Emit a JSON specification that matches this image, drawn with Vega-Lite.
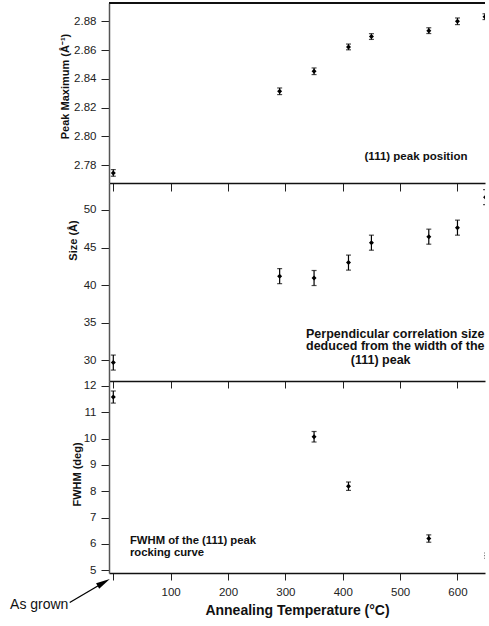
{
  "$schema": "https://vega.github.io/schema/vega-lite/v6.json",
  "autosize": {"type": "pad"},
  "padding": {"left": 10, "top": 2, "right": 0, "bottom": 0},
  "spacing": 0,
  "bounds": "flush",
  "config": {
    "view": {"stroke": null},
    "font": "Liberation Sans",
    "axis": {
      "labelFont": "Liberation Sans",
      "titleFont": "Liberation Sans",
      "labelFontSize": 11.5,
      "labelColor": "#222",
      "tickColor": "#222",
      "domainColor": "#111",
      "titleColor": "#111",
      "labelOverlap": false,
      "grid": false
    }
  },
  "datasets": {
    "peak": [
      {"t": 0, "v": 2.7747, "lo": 2.7724, "hi": 2.777},
      {"t": 290, "v": 2.8314, "lo": 2.8291, "hi": 2.8337},
      {"t": 350, "v": 2.8453, "lo": 2.843, "hi": 2.8476},
      {"t": 410, "v": 2.8622, "lo": 2.8602, "hi": 2.8642},
      {"t": 450, "v": 2.8694, "lo": 2.8674, "hi": 2.8714},
      {"t": 550, "v": 2.8735, "lo": 2.8715, "hi": 2.8755},
      {"t": 600, "v": 2.88, "lo": 2.8777, "hi": 2.8823},
      {"t": 648, "v": 2.8832, "lo": 2.8812, "hi": 2.8852}
    ],
    "size": [
      {"t": 0, "v": 29.7, "lo": 28.7, "hi": 30.7},
      {"t": 290, "v": 41.2, "lo": 40.2, "hi": 42.2},
      {"t": 350, "v": 40.95, "lo": 39.95, "hi": 41.95},
      {"t": 410, "v": 43.0, "lo": 42.0, "hi": 44.0},
      {"t": 450, "v": 45.65, "lo": 44.65, "hi": 46.65},
      {"t": 550, "v": 46.45, "lo": 45.45, "hi": 47.45},
      {"t": 600, "v": 47.65, "lo": 46.65, "hi": 48.65},
      {"t": 649, "v": 51.7, "lo": 50.7, "hi": 52.7}
    ],
    "fwhm": [
      {"t": 0, "v": 11.58, "lo": 11.35, "hi": 11.81},
      {"t": 350, "v": 10.07, "lo": 9.87, "hi": 10.27},
      {"t": 410, "v": 8.19, "lo": 8.03, "hi": 8.35},
      {"t": 550, "v": 6.2, "lo": 6.06, "hi": 6.34},
      {"t": 651, "v": 5.55, "lo": 5.45, "hi": 5.65}
    ],
    "noteTop": [
      {"t": 438, "v": 2.7835, "label": "(111) peak position"}
    ],
    "noteMid": [
      {"t": 336, "v": 33.0, "label": "Perpendicular correlation size"},
      {"t": 336, "v": 31.33, "label": "deduced from the width of the"},
      {"t": 414, "v": 29.47, "label": "(111) peak"}
    ],
    "noteBot": [
      {"t": 29, "v": 6.0, "label": "FWHM of the (111) peak"},
      {"t": 29, "v": 5.525, "label": "rocking curve"}
    ],
    "asGrown": [
      {"t": -180, "v": 3.54, "label": "As grown"}
    ],
    "arrow": [
      {"t": -76, "v": 3.77, "t2": -16.7, "v2": 4.53}
    ]
  },
  "vconcat": [
    {
      "width": 376,
      "height": 180,
      "layer": [
        {
          "data": {"name": "peak"},
          "mark": {"type": "rule", "color": "#000", "strokeWidth": 1.2, "clip": true},
          "encoding": {
            "x": {"field": "t", "type": "quantitative",
              "scale": {"domain": [-7.5, 648], "nice": false, "zero": false},
              "axis": {"orient": "bottom", "values": [0, 100, 200, 300, 400, 500, 600], "tickCount": 20, "labels": false, "tickSize": 8, "title": null, "domainWidth": 1.5}},
            "y": {"field": "lo", "type": "quantitative",
              "scale": {"domain": [2.7677, 2.8927], "nice": false, "zero": false},
              "axis": {"values": [2.78, 2.8, 2.82, 2.84, 2.86, 2.88], "tickCount": 20, "format": ".2f", "tickSize": 8, "labelPadding": 5, "labelOverlap": false,
                "domainColor": "#555", "domainWidth": 1.5,
                "title": "Peak Maximum (Å⁻¹)", "titleFontSize": 11, "titleFontWeight": "bold", "titleX": -39, "titleY": 83}},
            "y2": {"field": "hi"}
          }
        },
        {
          "data": {"name": "peak"},
          "mark": {"type": "tick", "orient": "horizontal", "size": 5, "thickness": 1.2, "color": "#000", "clip": true},
          "encoding": {"x": {"field": "t", "type": "quantitative"}, "y": {"field": "lo", "type": "quantitative"}}
        },
        {
          "data": {"name": "peak"},
          "mark": {"type": "tick", "orient": "horizontal", "size": 5, "thickness": 1.2, "color": "#000", "clip": true},
          "encoding": {"x": {"field": "t", "type": "quantitative"}, "y": {"field": "hi", "type": "quantitative"}}
        },
        {
          "data": {"name": "peak"},
          "mark": {"type": "point", "shape": "diamond", "filled": true, "size": 25, "color": "#000", "opacity": 1, "clip": true},
          "encoding": {"x": {"field": "t", "type": "quantitative"}, "y": {"field": "v", "type": "quantitative"}}
        },
        {
          "data": {"name": "peak"},
          "mark": {"type": "rule", "color": "#111", "strokeWidth": 1.2},
          "encoding": {"y": {"datum": 2.8927, "type": "quantitative"}}
        },
        {
          "data": {"name": "noteTop"},
          "mark": {"type": "text", "align": "left", "baseline": "alphabetic", "fontSize": 11.5, "fontWeight": "bold", "font": "Liberation Sans", "color": "#111"},
          "encoding": {"x": {"field": "t", "type": "quantitative"}, "y": {"field": "v", "type": "quantitative"}, "text": {"field": "label"}}
        }
      ]
    },
    {
      "width": 376,
      "height": 198,
      "layer": [
        {
          "data": {"name": "size"},
          "mark": {"type": "rule", "color": "#000", "strokeWidth": 1.2, "clip": true},
          "encoding": {
            "x": {"field": "t", "type": "quantitative",
              "scale": {"domain": [-7.5, 648], "nice": false, "zero": false},
              "axis": {"orient": "bottom", "values": [0, 100, 200, 300, 400, 500, 600], "tickCount": 20, "labels": false, "tickSize": 7, "title": null, "domainWidth": 1.5}},
            "y": {"field": "lo", "type": "quantitative",
              "scale": {"domain": [27.25, 53.59], "nice": false, "zero": false},
              "axis": {"values": [30, 35, 40, 45, 50], "tickCount": 20, "format": "d", "tickSize": 8, "labelPadding": 5, "labelOverlap": false,
                "domainColor": "#555", "domainWidth": 1.5,
                "title": "Size (Å)", "titleFontSize": 11, "titleFontWeight": "bold", "titleX": -31, "titleY": 57}},
            "y2": {"field": "hi"}
          }
        },
        {
          "data": {"name": "size"},
          "mark": {"type": "tick", "orient": "horizontal", "size": 5, "thickness": 1.2, "color": "#000", "clip": true},
          "encoding": {"x": {"field": "t", "type": "quantitative"}, "y": {"field": "lo", "type": "quantitative"}}
        },
        {
          "data": {"name": "size"},
          "mark": {"type": "tick", "orient": "horizontal", "size": 5, "thickness": 1.2, "color": "#000", "clip": true},
          "encoding": {"x": {"field": "t", "type": "quantitative"}, "y": {"field": "hi", "type": "quantitative"}}
        },
        {
          "data": {"name": "size"},
          "mark": {"type": "point", "shape": "diamond", "filled": true, "size": 25, "color": "#000", "opacity": 1, "clip": true},
          "encoding": {"x": {"field": "t", "type": "quantitative"}, "y": {"field": "v", "type": "quantitative"}}
        },
        {
          "data": {"name": "noteMid"},
          "mark": {"type": "text", "align": "left", "baseline": "alphabetic", "fontSize": 12.5, "fontWeight": "bold", "font": "Liberation Sans", "color": "#111", "clip": true},
          "encoding": {"x": {"field": "t", "type": "quantitative"}, "y": {"field": "v", "type": "quantitative"}, "text": {"field": "label"}}
        }
      ]
    },
    {
      "width": 376,
      "height": 192,
      "layer": [
        {
          "data": {"name": "fwhm"},
          "mark": {"type": "rule", "color": "#000", "strokeWidth": 1.2, "clip": true},
          "encoding": {
            "x": {"field": "t", "type": "quantitative",
              "scale": {"domain": [-7.5, 648], "nice": false, "zero": false},
              "axis": {"orient": "bottom", "values": [0, 100, 200, 300, 400, 500, 600], "tickCount": 20, "format": "d", "tickSize": 7, "labelPadding": 6, "domainWidth": 1.5, "labelOverlap": false,
                "labelExpr": "datum.value == 0 ? '' : datum.label",
                "title": "Annealing Temperature (°C)", "titleFontSize": 14, "titleFontWeight": "bold", "titlePadding": 6}},
            "y": {"field": "lo", "type": "quantitative",
              "scale": {"domain": [4.89, 12.19], "nice": false, "zero": false},
              "axis": {"values": [5, 6, 7, 8, 9, 10, 11, 12], "tickCount": 20, "format": "d", "tickSize": 8, "labelPadding": 5, "labelOverlap": false,
                "domainColor": "#555", "domainWidth": 1.5,
                "title": "FWHM (deg)", "titleFontSize": 11, "titleFontWeight": "bold", "titleX": -27, "titleY": 93}},
            "y2": {"field": "hi"}
          }
        },
        {
          "data": {"name": "fwhm"},
          "mark": {"type": "tick", "orient": "horizontal", "size": 5, "thickness": 1.2, "color": "#000", "clip": true},
          "encoding": {"x": {"field": "t", "type": "quantitative"}, "y": {"field": "lo", "type": "quantitative"}}
        },
        {
          "data": {"name": "fwhm"},
          "mark": {"type": "tick", "orient": "horizontal", "size": 5, "thickness": 1.2, "color": "#000", "clip": true},
          "encoding": {"x": {"field": "t", "type": "quantitative"}, "y": {"field": "hi", "type": "quantitative"}}
        },
        {
          "data": {"name": "fwhm"},
          "mark": {"type": "point", "shape": "diamond", "filled": true, "size": 25, "color": "#000", "opacity": 1, "clip": true},
          "encoding": {"x": {"field": "t", "type": "quantitative"}, "y": {"field": "v", "type": "quantitative"}}
        },
        {
          "data": {"name": "noteBot"},
          "mark": {"type": "text", "align": "left", "baseline": "alphabetic", "fontSize": 11.3, "fontWeight": "bold", "font": "Liberation Sans", "color": "#111"},
          "encoding": {"x": {"field": "t", "type": "quantitative"}, "y": {"field": "v", "type": "quantitative"}, "text": {"field": "label"}}
        },
        {
          "data": {"name": "asGrown"},
          "mark": {"type": "text", "align": "left", "baseline": "alphabetic", "fontSize": 14, "font": "Liberation Sans", "color": "#111"},
          "encoding": {"x": {"field": "t", "type": "quantitative"}, "y": {"field": "v", "type": "quantitative"}, "text": {"field": "label"}}
        },
        {
          "data": {"name": "arrow"},
          "mark": {"type": "rule", "color": "#000", "strokeWidth": 1.3},
          "encoding": {"x": {"field": "t", "type": "quantitative"}, "y": {"field": "v", "type": "quantitative"}, "x2": {"field": "t2"}, "y2": {"field": "v2"}}
        },
        {
          "data": {"name": "arrow"},
          "mark": {"type": "point", "shape": "M1,0L-1,-0.45L-1,0.45Z", "filled": true, "size": 196, "color": "#000", "opacity": 1, "angle": 330.6},
          "encoding": {"x": {"field": "t2", "type": "quantitative"}, "y": {"field": "v2", "type": "quantitative"}}
        }
      ]
    }
  ]
}
